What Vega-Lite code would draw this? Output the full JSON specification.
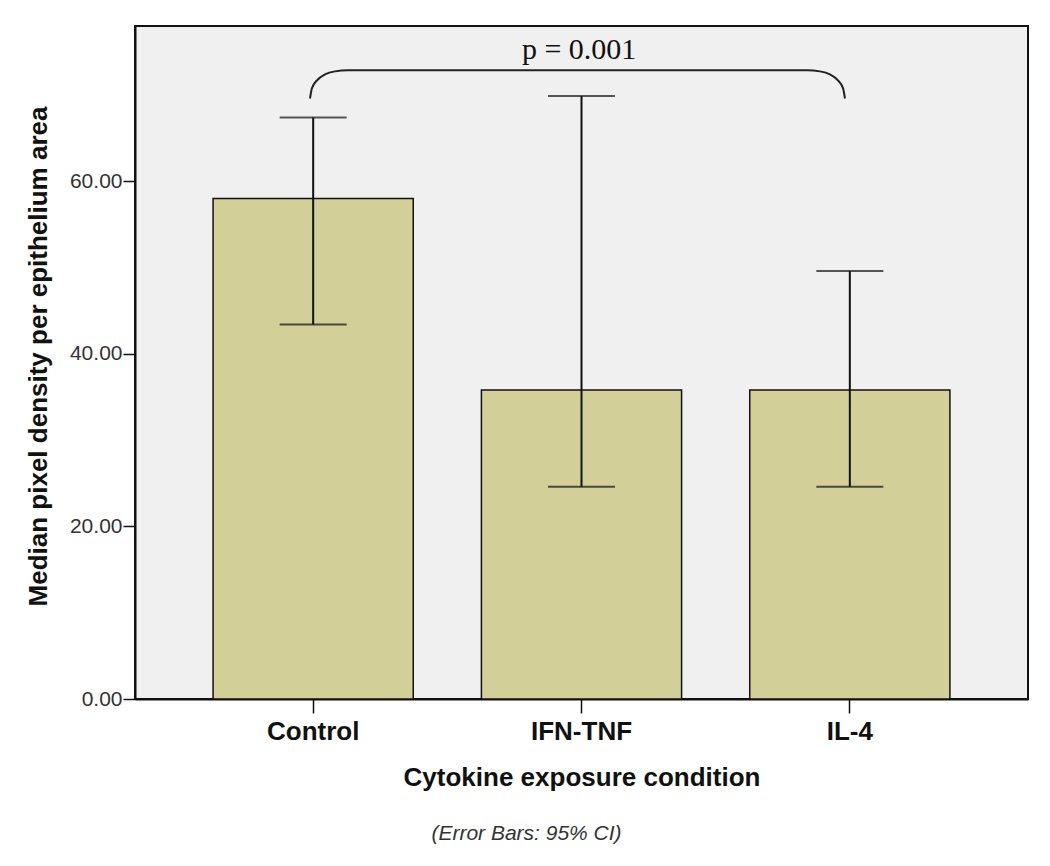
{
  "$schema": "https://vega.github.io/schema/vega-lite/v6.json",
  "width": 893,
  "height": 673,
  "autosize": {"type": "none"},
  "padding": {"left": 135, "top": 26, "right": 22, "bottom": 167},
  "background": "white",
  "config": {
    "view": {"fill": "#f0f0f0", "stroke": "#111111", "strokeWidth": 2},
    "font": "Liberation Sans"
  },
  "title": {
    "text": "(Error Bars: 95% CI)",
    "orient": "bottom",
    "anchor": "middle",
    "frame": "bounds",
    "font": "Liberation Sans",
    "fontSize": 21,
    "fontStyle": "italic",
    "fontWeight": "normal",
    "color": "#333333",
    "offset": 33
  },
  "datasets": {
    "bars": [
      {"condition": "Control", "median": 58.0, "lo": 43.4, "hi": 67.4},
      {"condition": "IFN-TNF", "median": 35.8, "lo": 24.6, "hi": 69.9},
      {"condition": "IL-4", "median": 35.8, "lo": 24.6, "hi": 49.6}
    ],
    "bracket": [
      {"bx": -0.011, "by": 69.6},
      {"bx": -0.004, "by": 70.77},
      {"bx": 0.015, "by": 71.7},
      {"bx": 0.045, "by": 72.4},
      {"bx": 0.082, "by": 72.74},
      {"bx": 0.131, "by": 72.86},
      {"bx": 1.843, "by": 72.86},
      {"bx": 1.892, "by": 72.74},
      {"bx": 1.929, "by": 72.4},
      {"bx": 1.959, "by": 71.7},
      {"bx": 1.978, "by": 70.77},
      {"bx": 1.985, "by": 69.6}
    ],
    "label": [
      {"lx": 0.993, "ly": 75.2, "txt": "p = 0.001"}
    ]
  },
  "resolve": {"scale": {"x": "independent"}},
  "layer": [
    {
      "data": {"name": "bars"},
      "encoding": {
        "x": {
          "field": "condition",
          "type": "nominal",
          "sort": null,
          "scale": {"paddingInner": 0.254, "paddingOuter": 0.291},
          "axis": {
            "title": "Cytokine exposure condition",
            "labelAngle": 0,
            "labelFont": "Liberation Sans",
            "labelFontSize": 26,
            "labelFontWeight": "bold",
            "labelColor": "#111111",
            "labelPadding": 5,
            "tickSize": 14,
            "tickWidth": 1.5,
            "tickColor": "#111111",
            "domainColor": "#111111",
            "domainWidth": 2,
            "titleFont": "Liberation Sans",
            "titleFontSize": 26,
            "titleFontWeight": "bold",
            "titleColor": "#111111",
            "titlePadding": 20
          }
        }
      },
      "layer": [
        {
          "mark": {"type": "bar", "fill": "#d3cf98", "stroke": "#111111", "strokeWidth": 1.5},
          "encoding": {
            "y": {
              "field": "median",
              "type": "quantitative",
              "scale": {"domain": [0, 78], "nice": false},
              "axis": {
                "title": "Median pixel density per epithelium area",
                "values": [0, 20, 40, 60],
                "format": ".2f",
                "grid": false,
                "labelFont": "Liberation Sans",
                "labelFontSize": 21,
                "labelColor": "#333333",
                "labelPadding": 1,
                "tickSize": 12,
                "tickWidth": 1.5,
                "tickColor": "#111111",
                "domainColor": "#111111",
                "domainWidth": 2,
                "titleFont": "Liberation Sans",
                "titleFontSize": 26,
                "titleFontWeight": "bold",
                "titleColor": "#111111",
                "titleX": -84,
                "titleY": 330
              }
            }
          }
        },
        {
          "mark": {"type": "rule", "color": "#111111", "strokeWidth": 2},
          "encoding": {
            "y": {"field": "lo", "type": "quantitative"},
            "y2": {"field": "hi"}
          }
        },
        {
          "mark": {"type": "tick", "color": "#111111", "size": 67, "thickness": 2},
          "encoding": {
            "y": {"field": "hi", "type": "quantitative"}
          }
        },
        {
          "mark": {"type": "tick", "color": "#111111", "size": 67, "thickness": 2},
          "encoding": {
            "y": {"field": "lo", "type": "quantitative"}
          }
        }
      ]
    },
    {
      "data": {"name": "bracket"},
      "mark": {"type": "line", "color": "#222222", "strokeWidth": 2, "interpolate": "monotone"},
      "encoding": {
        "x": {"field": "bx", "type": "quantitative", "scale": {"domain": [-0.664, 2.668], "nice": false, "zero": false}, "axis": null},
        "y": {"field": "by", "type": "quantitative"}
      }
    },
    {
      "data": {"name": "label"},
      "mark": {"type": "text", "font": "Liberation Serif", "fontSize": 30, "color": "#111111", "baseline": "middle", "align": "center"},
      "encoding": {
        "x": {"field": "lx", "type": "quantitative", "scale": {"domain": [-0.664, 2.668], "nice": false, "zero": false}, "axis": null},
        "y": {"field": "ly", "type": "quantitative"},
        "text": {"field": "txt"}
      }
    }
  ]
}
